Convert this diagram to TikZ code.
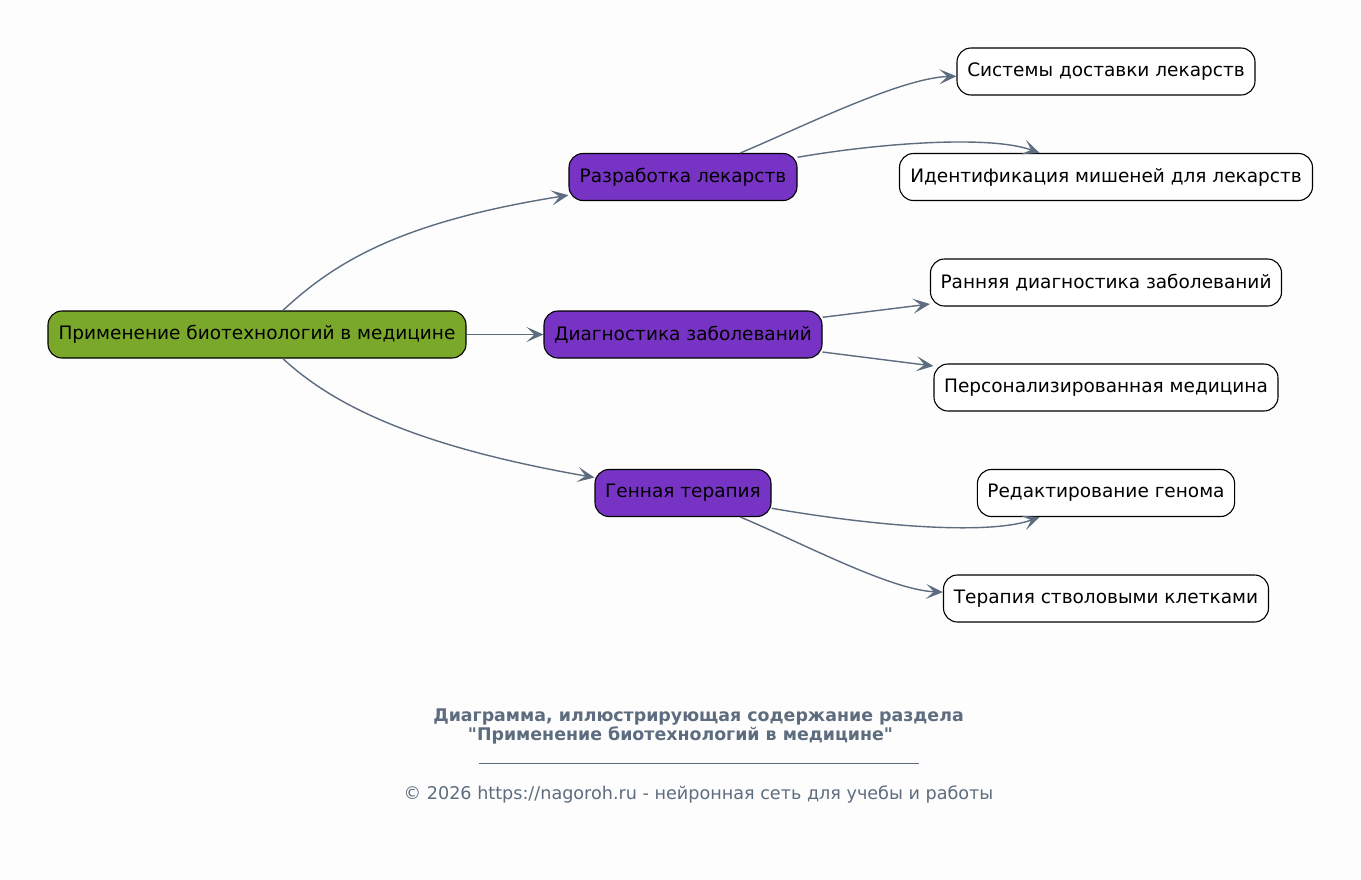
\documentclass[tikz,border=0pt]{standalone}
\usepackage{fontspec}
\setmainfont{DejaVu Sans}[Ligatures=TeXOff]
\usetikzlibrary{arrows.meta}
\definecolor{bgc}{RGB}{253,253,253}
\definecolor{rootc}{RGB}{122,168,42}
\definecolor{purp}{RGB}{119,52,196}
\definecolor{edgec}{RGB}{93,108,126}
\tikzset{
  box/.style={draw=black, line width=1.1pt, rounded corners=14pt, minimum height=47pt, inner xsep=10pt, font=\fontsize{18.5}{21}\selectfont, text=black},
  rootbox/.style={box, fill=rootc},
  midbox/.style={box, fill=purp},
  leafbox/.style={box, fill=white},
  conn/.style={draw=edgec, line width=1.4pt, -{Stealth[length=17pt,width=15pt,inset=8pt]}},
  capt/.style={text=edgec, font=\bfseries\fontsize{17.4}{19}\selectfont},
  foot/.style={text=edgec, font=\fontsize{17.6}{19}\selectfont}
}
\begin{document}
\begin{tikzpicture}[x=1pt,y=-1pt]
\fill[bgc] (0,0) rectangle (1361,879);
\useasboundingbox (0,0) rectangle (1361,879);
\node[rootbox, minimum width=418pt] (root) at (257,334.5) {Применение биотехнологий в медицине};
\node[midbox, minimum width=228pt] (dev) at (683,177) {Разработка лекарств};
\node[midbox, minimum width=278pt] (diag) at (683,334.5) {Диагностика заболеваний};
\node[midbox, minimum width=176pt] (gene) at (683,493) {Генная терапия};
\node[leafbox, minimum width=298pt] (sys) at (1106,71.5) {Системы доставки лекарств};
\node[leafbox, minimum width=413pt] (ident) at (1106,177) {Идентификация мишеней для лекарств};
\node[leafbox, minimum width=351pt] (early) at (1106,282.5) {Ранняя диагностика заболеваний};
\node[leafbox, minimum width=344pt] (pers) at (1106,387.5) {Персонализированная медицина};
\node[leafbox, minimum width=257pt] (edit) at (1106,493) {Редактирование генома};
\node[leafbox, minimum width=325pt] (stem) at (1106,598.5) {Терапия стволовыми клетками};

\draw[conn] (root) .. controls (335,262) and (400,222) .. (dev);
\draw[conn] (root) -- (diag);
\draw[conn] (root) .. controls (335,407) and (420,447) .. (gene);
\draw[conn] (dev) .. controls (800,128) and (900,78) .. (sys);
\draw[conn] (dev) .. controls (880,143) and (990,135) .. (ident);
\draw[conn] (diag) -- (early);
\draw[conn] (diag) -- (pers);
\draw[conn] (gene) .. controls (880,527) and (990,535) .. (edit);
\draw[conn] (gene) .. controls (800,542) and (890,590) .. (stem);

\node[capt] (c1) at (698.5,717) {Диаграмма, иллюстрирующая содержание раздела};
\node[capt] (c2) at (680.5,735) {"Применение биотехнологий в медицине"};
\draw[edgec, line width=0.6pt] (479,763) -- (919,763);
\node[foot] (ft) at (698.5,794) {© 2026 https://nagoroh.ru - нейронная сеть для учебы и работы};
\end{tikzpicture}
\end{document}
